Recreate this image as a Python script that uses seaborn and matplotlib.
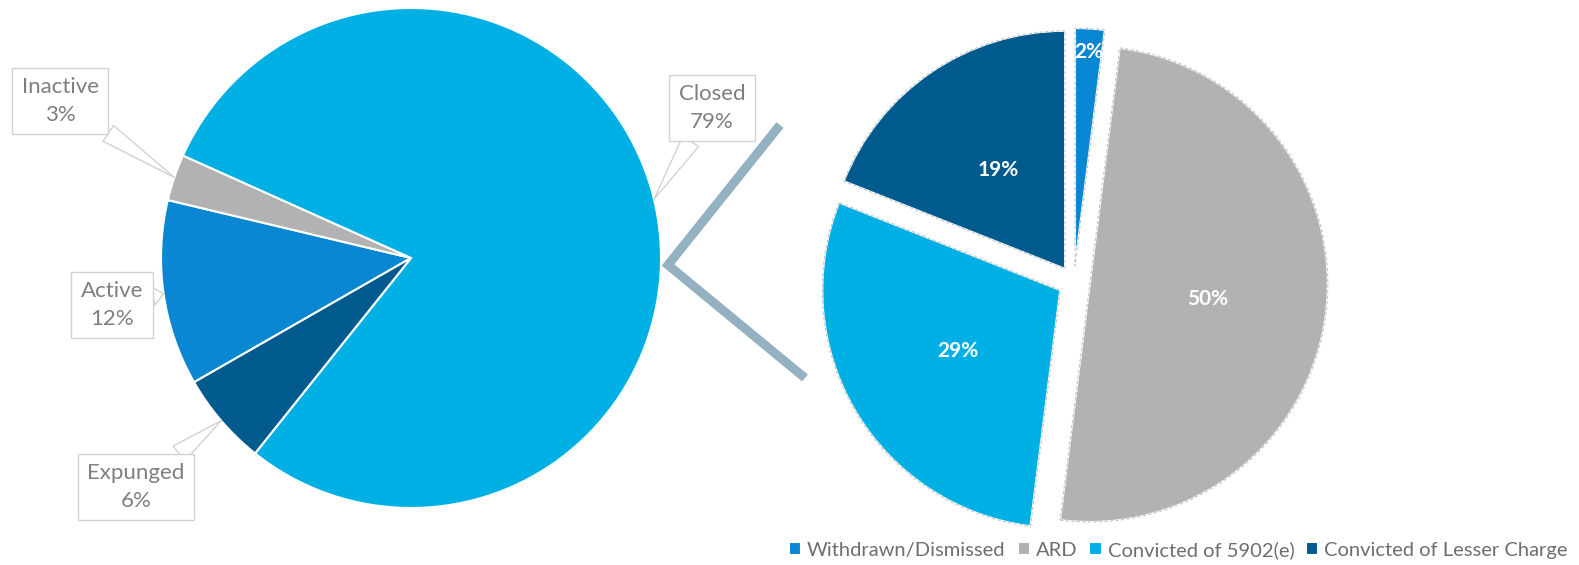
import matplotlib
matplotlib.use("Agg")
import numpy as np
import matplotlib.pyplot as plt
from matplotlib.lines import Line2D
import seaborn as sns

# Case status breakdown (left pie)
status_labels = ["Active", "Inactive", "Closed", "Expunged"]
status_pct = [12, 3, 79, 6]

# Outcome of closed cases (right pie)
outcome_labels = ["Withdrawn/Dismissed", "ARD", "Convicted of 5902(e)",
                  "Convicted of Lesser Charge"]
outcome_pct = [2, 50, 29, 19]

CYAN = "#00B0E4"
BLUE = "#0A87D2"
NAVY = "#005A8E"
GREY = "#B2B2B2"
status_colors = [BLUE, GREY, CYAN, NAVY]
outcome_colors = [BLUE, GREY, CYAN, NAVY]

sns.set_theme(style="white")
plt.rcParams["font.family"] = ["Lato", "DejaVu Sans"]

W, H = 1579, 565
fig = plt.figure(figsize=(W / 100, H / 100), dpi=100)


def pie_axes(cx, cy, r):
    """Full-figure transparent axes whose unit circle sits at pixel (cx, cy) with radius r."""
    ax = fig.add_axes([0, 0, 1, 1])
    ax.set_axis_off()
    ax.patch.set_alpha(0)
    return ax, (-cx / r, (W - cx) / r), ((cy - H) / r, cy / r)


def px(ax_geom, x, y):
    cx, cy, r = ax_geom
    return ((x - cx) / r, (cy - y) / r)


# ---- left pie: case status ----
L = (411, 258, 250)
axL, xl, yl = pie_axes(*L)
wedgesL, _ = axL.pie(status_pct, colors=status_colors, startangle=209.8,
                     counterclock=False,
                     wedgeprops=dict(edgecolor="white", linewidth=1.5))
axL.set_xlim(*xl)
axL.set_ylim(*yl)

box_centres = {"Active": (112, 305), "Inactive": (60, 101),
               "Closed": (712, 108), "Expunged": (136, 487)}
for w, lab, pct in zip(wedgesL, status_labels, status_pct):
    th = np.deg2rad((w.theta1 + w.theta2) / 2)
    tip = (np.cos(th), np.sin(th))
    axL.annotate(f"{lab}\n{pct}%", xy=tip, xytext=px(L, *box_centres[lab]),
                 ha="center", va="center", fontsize=16, color="#7F7F7F",
                 linespacing=1.45,
                 bbox=dict(boxstyle="square,pad=0.42", fc="white",
                           ec="#D2D2D2", lw=1),
                 arrowprops=dict(arrowstyle="wedge,tail_width=0.85",
                                 fc="white", ec="#D2D2D2", lw=1,
                                 shrinkA=0, shrinkB=0))

# ---- right pie: outcomes, exploded ----
R = (1074, 282, 238)
axR, xr, yr = pie_axes(*R)
explode = [0.067] * len(outcome_pct)
wedgesR, _, autotexts = axR.pie(
    outcome_pct, colors=outcome_colors, startangle=90, counterclock=False,
    explode=explode, autopct=lambda p: f"{p:.0f}%",
    pctdistance=0.5,
    textprops=dict(color="white", fontsize=15, fontweight="bold"),
    wedgeprops=dict(edgecolor="white", linewidth=1.5))
# faint dashed outline around each separated slice
axR.pie(outcome_pct, startangle=90, counterclock=False, explode=explode,
        wedgeprops=dict(fill=False, edgecolor="#C4C4C4", linewidth=0.8,
                        linestyle=(0, (3, 2))))
axR.set_xlim(*xr)
axR.set_ylim(*yr)

# the thin slice carries its label near the rim
w0 = wedgesR[0]
th0 = np.deg2rad((w0.theta1 + w0.theta2) / 2)
c0x, c0y = w0.center
autotexts[0].set_position((c0x + 0.9 * np.cos(th0), c0y + 0.9 * np.sin(th0)))

# zoom connector between the two pies
fig.add_artist(Line2D([780 / W, 668 / W, 805 / W],
                      [1 - 125 / H, 1 - 265 / H, 1 - 378 / H],
                      transform=fig.transFigure, color="#93B1C0",
                      linewidth=6.5, solid_joinstyle="miter",
                      solid_capstyle="butt"))

fig.legend(handles=wedgesR, labels=outcome_labels, loc="center right",
           bbox_to_anchor=(1568 / W, 1 - 550 / H), ncol=4, frameon=False,
           handlelength=0.6, handleheight=0.6, handletextpad=0.3,
           columnspacing=0.6, fontsize=14.5, labelcolor="#6E6E6E",
           borderpad=0, borderaxespad=0)

fig.savefig("out.png", dpi=100)
